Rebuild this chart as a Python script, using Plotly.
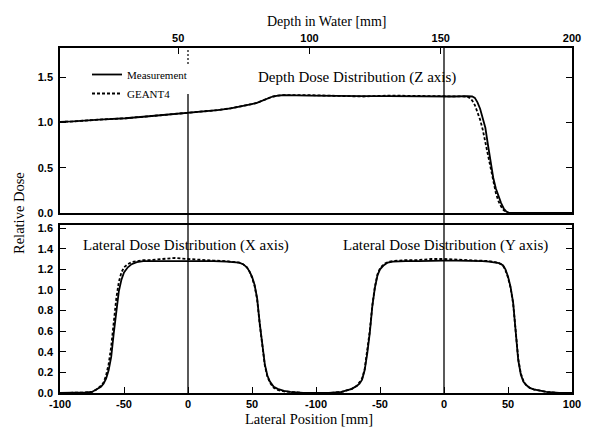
import plotly.graph_objects as go

# ---------------- data ----------------
depth_mm = [5, 10, 20, 30, 40, 50, 54, 60, 65, 70, 75, 78, 80, 82, 84, 86, 88, 90,
            100, 110, 120, 130, 140, 150, 155, 160, 161, 162, 163, 164, 165, 166,
            167, 168, 169, 170, 171, 172, 173, 174, 175, 176, 180, 190, 200]
depth_meas = [1.005, 1.01, 1.03, 1.045, 1.07, 1.095, 1.105, 1.12, 1.135, 1.155, 1.18,
              1.20, 1.215, 1.24, 1.265, 1.285, 1.295, 1.30, 1.295, 1.29, 1.29, 1.29,
              1.285, 1.285, 1.285, 1.29, 1.29, 1.285, 1.27, 1.22, 1.15, 1.05, 0.94,
              0.75, 0.55, 0.39, 0.27, 0.18, 0.11, 0.05, 0.015, 0.0, 0.0, 0.0, 0.0]
depth_geant = [1.005, 1.01, 1.03, 1.045, 1.07, 1.095, 1.105, 1.12, 1.135, 1.155, 1.18,
               1.20, 1.215, 1.24, 1.265, 1.285, 1.295, 1.30, 1.30, 1.295, 1.285, 1.295,
               1.29, 1.29, 1.28, 1.285, 1.27, 1.24, 1.19, 1.12, 1.03, 0.92, 0.78,
               0.62, 0.46, 0.33, 0.22, 0.13, 0.07, 0.03, 0.01, 0.0, 0.0, 0.0, 0.0]

lat_pos = [-100, -90, -80, -75, -72, -68, -66, -64, -62, -60, -58, -56, -54, -52, -50,
           -47, -44, -40, -35, -30, -20, -10, 0, 10, 20, 30, 35, 40, 43, 46, 48, 50,
           52, 54, 56, 58, 60, 62, 64, 67, 70, 75, 80, 90, 100]
x_meas = [0.0, 0.0, 0.005, 0.01, 0.03, 0.06, 0.09, 0.14, 0.22, 0.35, 0.58, 0.80, 0.99,
          1.10, 1.17, 1.22, 1.25, 1.27, 1.28, 1.28, 1.28, 1.285, 1.285, 1.28, 1.28,
          1.275, 1.27, 1.265, 1.25, 1.22, 1.18, 1.13, 1.05, 0.92, 0.68, 0.45, 0.28,
          0.17, 0.11, 0.06, 0.04, 0.02, 0.01, 0.0, 0.0]
x_geant = [0.0, 0.0, 0.005, 0.01, 0.03, 0.07, 0.10, 0.17, 0.28, 0.45, 0.70, 0.92, 1.08,
           1.17, 1.22, 1.25, 1.27, 1.28, 1.29, 1.29, 1.30, 1.31, 1.30, 1.29, 1.285,
           1.28, 1.275, 1.265, 1.25, 1.22, 1.18, 1.12, 1.04, 0.91, 0.67, 0.44, 0.27,
           0.16, 0.10, 0.05, 0.03, 0.015, 0.01, 0.0, 0.0]
y_meas = [0.0, 0.0, 0.01, 0.025, 0.04, 0.07, 0.09, 0.13, 0.22, 0.38, 0.58, 0.84, 1.02,
          1.14, 1.20, 1.24, 1.265, 1.275, 1.28, 1.28, 1.28, 1.285, 1.285, 1.285, 1.285,
          1.28, 1.275, 1.27, 1.26, 1.24, 1.20, 1.13, 1.03, 0.88, 0.58, 0.32, 0.18,
          0.11, 0.08, 0.05, 0.035, 0.02, 0.01, 0.0, 0.0]
y_geant = [0.0, 0.0, 0.01, 0.025, 0.04, 0.07, 0.10, 0.14, 0.23, 0.40, 0.60, 0.85, 1.03,
           1.15, 1.21, 1.25, 1.27, 1.28, 1.285, 1.29, 1.29, 1.30, 1.30, 1.295, 1.29,
           1.285, 1.28, 1.27, 1.26, 1.24, 1.19, 1.12, 1.02, 0.87, 0.58, 0.33, 0.19,
           0.12, 0.08, 0.05, 0.035, 0.02, 0.01, 0.0, 0.0]

y_offset = 200  # Y profile drawn on the shared lateral axis shifted by 200 mm
lat_tickvals = [-100, -50, 0, 50, 100, 150, 200, 250, 300]
lat_ticktext = ["-100", "-50", "0", "50", "-100", "-50", "0", "50", "100"]
depth_ticks = [50, 100, 150, 200]

# ---------------- figure ----------------
W, H = 593, 428
def px_x(p): return p / W
def px_y(p): return 1 - p / H

SERIF = "Liberation Serif, Times New Roman, serif"
TICKFONT = dict(family="Liberation Sans, Arial, sans-serif", size=11, color="black", weight="bold")
LINE_W = 1.8
DASH = "3px,2px"

fig = go.Figure()

# top panel: depth dose
fig.add_trace(go.Scatter(x=depth_mm, y=depth_meas, mode="lines", name="Measurement",
                         line=dict(color="black", width=LINE_W), xaxis="x2", yaxis="y2"))
fig.add_trace(go.Scatter(x=depth_mm, y=depth_geant, mode="lines", name="GEANT4",
                         line=dict(color="black", width=LINE_W, dash=DASH), xaxis="x2", yaxis="y2"))

# bottom panel: lateral profiles
fig.add_trace(go.Scatter(x=lat_pos, y=x_geant, mode="lines", showlegend=False,
                         line=dict(color="black", width=LINE_W, dash=DASH), xaxis="x", yaxis="y"))
fig.add_trace(go.Scatter(x=lat_pos, y=x_meas, mode="lines", showlegend=False,
                         line=dict(color="black", width=LINE_W), xaxis="x", yaxis="y"))
fig.add_trace(go.Scatter(x=[p + y_offset for p in lat_pos], y=y_geant, mode="lines", showlegend=False,
                         line=dict(color="black", width=LINE_W, dash=DASH), xaxis="x", yaxis="y"))
fig.add_trace(go.Scatter(x=[p + y_offset for p in lat_pos], y=y_meas, mode="lines", showlegend=False,
                         line=dict(color="black", width=LINE_W), xaxis="x", yaxis="y"))

xdom = [px_x(60), px_x(572)]
top_dom = [px_y(213), px_y(48)]
bot_dom = [px_y(393), px_y(225)]

axis_common = dict(showgrid=False, zeroline=False, showline=True, linecolor="black",
                   linewidth=1.5, ticks="inside", tickcolor="black", tickwidth=1.2,
                   tickfont=TICKFONT, automargin=False)

fig.update_layout(
    width=W, height=H,
    margin=dict(l=0, r=0, t=0, b=0),
    paper_bgcolor="white", plot_bgcolor="white",
    showlegend=True,
    legend=dict(x=px_x(87), y=px_y(60), xanchor="left", yanchor="top",
                bgcolor="rgba(0,0,0,0)", font=dict(family=SERIF, size=11, color="black"),
                itemwidth=30, tracegroupgap=0),
    xaxis=dict(domain=xdom, anchor="y", range=[-100, 300], tickvals=lat_tickvals,
               ticktext=lat_ticktext, ticklen=6, mirror=True, **axis_common),
    yaxis=dict(domain=bot_dom, anchor="x", range=[0, 1.63], tickvals=[0, 0.2, 0.4, 0.6, 0.8, 1.0, 1.2, 1.4, 1.6],
               tickformat=".1f", ticklen=6, mirror="ticks", ticklabelstandoff=3, **axis_common),
    xaxis2=dict(domain=xdom, anchor="y2", side="top", range=[5, 200], tickvals=depth_ticks,
                ticklen=6, mirror=True, **axis_common),
    yaxis2=dict(domain=top_dom, anchor="x2", range=[0, 1.82], tickvals=[0, 0.5, 1.0, 1.5],
                tickformat=".1f", ticklen=6, mirror="ticks", ticklabelstandoff=3, **axis_common),
)

# vertical reference lines at lateral 0 (both profiles), spanning both panels;
# the left one is interrupted next to the legend as in the original
line_style = dict(color="black", width=1.3)
fig.add_shape(type="line", xref="x", yref="paper", x0=0, x1=0,
              y0=bot_dom[0], y1=px_y(94), line=line_style)
fig.add_shape(type="line", xref="x", yref="paper", x0=0, x1=0,
              y0=px_y(64), y1=top_dom[1], line=dict(color="black", width=1.2, dash="2px,2px"))
fig.add_shape(type="line", xref="x", yref="paper", x0=y_offset, x1=y_offset,
              y0=bot_dom[0], y1=top_dom[1], line=line_style)

def ann(text, x, y, size, angle=0):
    fig.add_annotation(text=text, xref="paper", yref="paper", x=px_x(x), y=px_y(y),
                       xanchor="center", yanchor="middle", showarrow=False, textangle=angle,
                       font=dict(family=SERIF, size=size, color="black"))

ann("Depth in Water [mm]", 327, 21, 14)
ann("Lateral Position [mm]", 309, 419, 14.5)
ann("Relative Dose", 19, 213, 14.5, -90)
ann("Depth Dose Distribution (Z axis)", 357, 77, 15)
ann("Lateral Dose Distribution (X axis)", 186, 245, 15)
ann("Lateral Dose Distribution (Y axis)", 445, 245, 15)

fig.write_html("out.html", config={"displayModeBar": False},
               post_script="document.body.style.margin='0';document.body.style.overflow='hidden';")
